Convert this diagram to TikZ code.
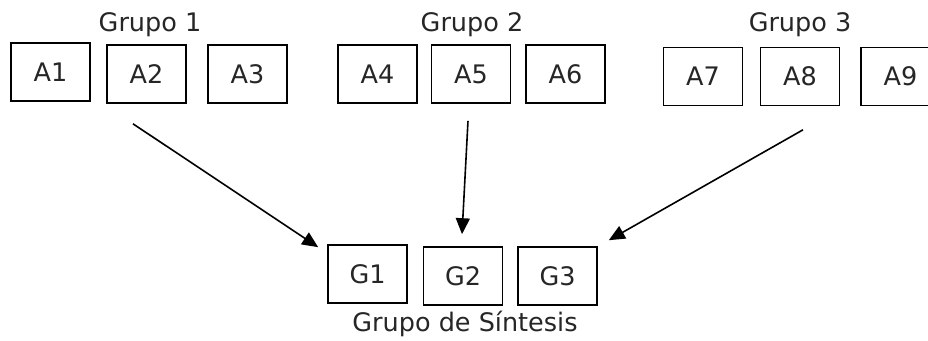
\documentclass[tikz,border=0pt]{standalone}
\usepackage{fontspec}
\setmainfont{DejaVu Sans}
\usetikzlibrary{arrows.meta}
\begin{document}
\begin{tikzpicture}[x=1pt,y=-1pt,
  box/.style={draw=black,line width=1.6pt,minimum width=79pt,minimum height=58pt,inner sep=0pt,font=\fontsize{25.5}{28}\selectfont,text=black!85},
  lbl/.style={anchor=base,inner sep=0pt,font=\fontsize{25.5}{28}\selectfont,text=black!85},
  conn/.style={line width=1.6pt,-{Triangle[length=16pt,width=14pt]}}]
\useasboundingbox (0,0) rectangle (928,340);
\clip (0,0) rectangle (928,340);
\fill[white] (0,0) rectangle (928,340);
% group labels
\node[lbl] (g1) at (150,31) {Grupo 1};
\node[lbl] (g2) at (472,31) {Grupo 2};
\node[lbl] (g3) at (800,31) {Grupo 3};
\node[lbl] (gs) at (465,331) {Grupo de Síntesis};
% boxes
\node[box] (A1) at (50.5,72) {A1};
\node[box] (A2) at (146.5,74) {A2};
\node[box] (A3) at (247.5,74) {A3};
\node[box] (A4) at (377.5,74) {A4};
\node[box] (A5) at (471,74) {A5};
\node[box] (A6) at (565.5,74) {A6};
\node[box] (A7) at (703,76.5) {A7};
\node[box] (A8) at (800,76.5) {A8};
\node[box] (A9) at (900.5,76.5) {A9};
\node[box] (G1) at (367.5,274) {G1};
\node[box] (G2) at (463,276) {G2};
\node[box] (G3) at (557.5,276) {G3};
% connectors
\coordinate (s1) at ([shift={(-13.5,20)}]A2.south);
\coordinate (e1) at ([shift={(-9,3)}]G1.north west);
\coordinate (s2) at ([shift={(-3,17)}]A5.south);
\coordinate (e2) at ([shift={(-1,-12)}]G2.north);
\coordinate (s3) at ([shift={(3,23.5)}]A8.south);
\coordinate (e3) at ([shift={(11,-6)}]G3.north east);
\draw[conn] (s1) -- (e1);
\draw[conn] (s2) -- (e2);
\draw[conn] (s3) -- (e3);
\end{tikzpicture}
\end{document}
